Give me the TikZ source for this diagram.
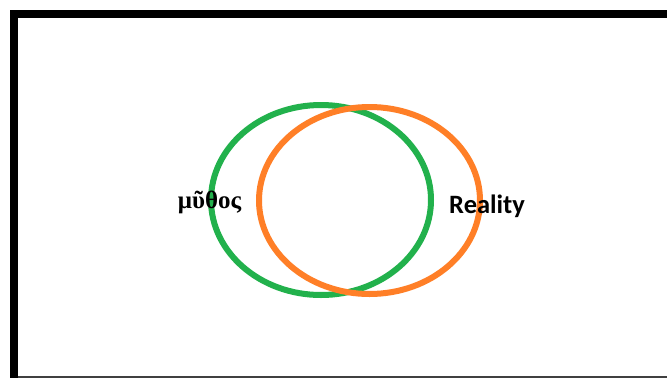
\documentclass[tikz,border=0pt]{standalone}
\usepackage{fontspec}
\newfontfamily\greekfont{Liberation Serif}
\newfontfamily\labelfont{Carlito}
\definecolor{paintgreen}{RGB}{34,177,76}
\definecolor{paintorange}{RGB}{255,127,39}
\tikzset{
  ring/.style={line width=6pt},
}
\begin{document}
\begin{tikzpicture}[x=1pt,y=-1pt]
\useasboundingbox (0,0) rectangle (667,378);
\fill[white] (0,0) rectangle (667,378);
% frame
\fill[black] (10,10) rectangle (667,18);
\fill[black] (10,10) rectangle (18,378);
\fill[black!75] (18,376) rectangle (667,378);
% circles
\draw[ring, paintgreen] (321,200) ellipse [x radius=110, y radius=95];
\draw[ring, paintorange] (369.5,200.5) ellipse [x radius=110.5, y radius=93.5];
% labels
\node[inner sep=0pt, anchor=base] (mythos) at (209.5,208) {\greekfont\bfseries\fontsize{25}{28}\selectfont μῦθος};
\node[inner sep=0pt, anchor=base west] (reality) at (449,213) {\labelfont\bfseries\fontsize{26.5}{30}\selectfont Reality};
\end{tikzpicture}
\end{document}
